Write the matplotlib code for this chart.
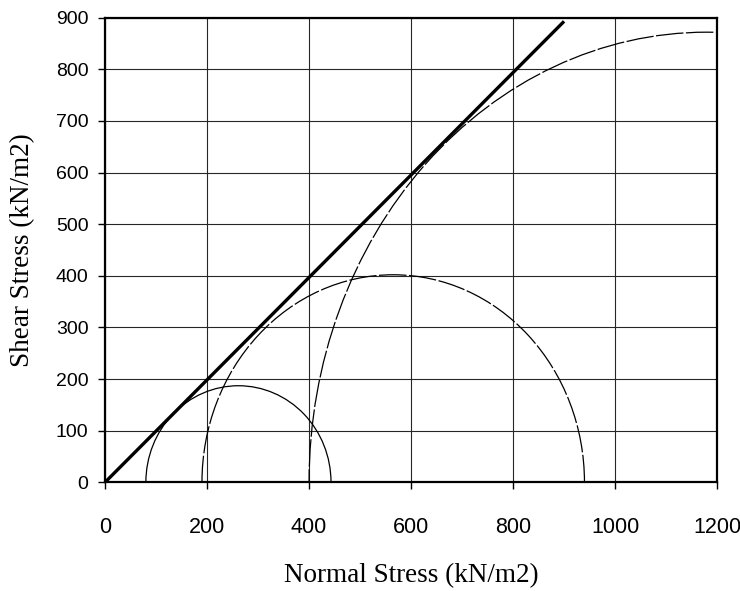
import numpy as np
import matplotlib.pyplot as plt
from matplotlib.patches import Arc

plt.rcParams['font.family'] = ['Liberation Sans', 'DejaVu Sans']

# Mohr circles (kN/m2), drawn a bit out of round
sigma3 = [80, 190, 400]
sigma1 = [443, 940, 1960]
tau_peak = [187, 402, 872]

# failure envelope
env_sigma = [0, 900]
env_tau = [0, 893]

xticks = [0, 200, 400, 600, 800, 1000, 1200]
yticks = [0, 100, 200, 300, 400, 500, 600, 700, 800, 900]

arc_styles = ['-', (0, (22, 2)), (0, (22, 2))]

fig = plt.figure(figsize=(7.4, 5.91), dpi=100)
ax = fig.add_axes([0.142, 0.184, 0.827, 0.786])

ax.set_xlim(0, 1200)
ax.set_ylim(0, 900)
ax.set_xticks(xticks)
ax.set_yticks(yticks)
ax.grid(True, color='0.15', linewidth=0.8)
ax.set_axisbelow(True)

for s3, s1, tp, ls in zip(sigma3, sigma1, tau_peak, arc_styles):
    arc = Arc(((s1 + s3) / 2, 0), s1 - s3, 2 * tp, theta1=0, theta2=180,
              color='k', linewidth=0.9, linestyle=ls)
    ax.add_patch(arc)

ax.plot(env_sigma, env_tau, color='k', linewidth=2.4, solid_capstyle='butt')

for s in ax.spines.values():
    s.set_linewidth(1.6)

ax.tick_params(axis='both', length=5, width=1, color='k')
ax.tick_params(axis='x', labelsize=15.5, pad=20)
ax.tick_params(axis='y', labelsize=14, pad=7)

ax.set_xlabel('Normal Stress (kN/m2)', family=['Liberation Serif'], fontsize=19.5, labelpad=18)
ax.set_ylabel('Shear Stress (kN/m2)', family=['Liberation Serif'], fontsize=19.5, labelpad=15)

fig.savefig('out.png', dpi=100)
